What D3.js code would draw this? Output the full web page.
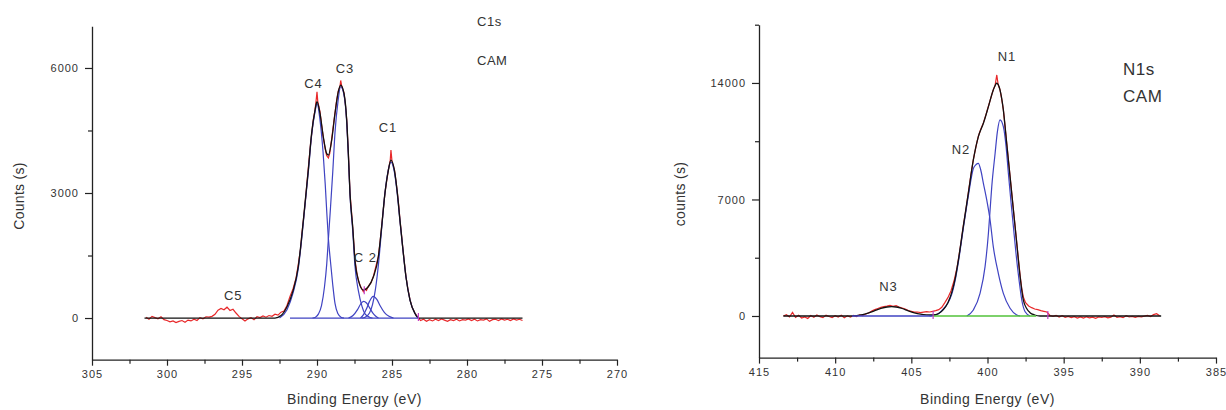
<!DOCTYPE html>
<html>
<head>
<meta charset="utf-8">
<script src="https://cdn.jsdelivr.net/npm/d3@7"></script>
<style>
html,body{margin:0;padding:0;background:#fff;}
svg{display:block;}
text{font-family:"Liberation Sans",Arial,sans-serif;fill:#333;}
</style>
</head>
<body>
<svg id="chart" width="1226" height="410"></svg>
<script>
// ---------------- DATA: C1s panel ----------------
const c1sXTicks = [305, 300, 295, 290, 285, 280, 275, 270];
const c1sXMinor = [302.5, 297.5, 292.5, 287.5, 282.5, 277.5, 272.5];
const c1sYTicks = [0, 3000, 6000];
const c1sYMinor = [1500, 4500];

const c1sRaw = [
 [301.4,20],[301.2,-30],[301.0,40],[300.8,10],[300.6,-20],[300.4,30],[300.2,-40],[300.0,-60],[299.8,-90],[299.6,-70],
 [299.4,-110],[299.2,-80],[299.0,-60],[298.8,-100],[298.6,-50],[298.4,-70],[298.2,-30],[298.0,-60],[297.8,10],[297.6,-20],
 [297.4,30],[297.2,20],[297.0,40],[296.8,90],[296.6,190],[296.4,230],[296.2,200],[296.0,260],[295.8,180],[295.6,210],[295.4,120],
 [295.2,40],[295.0,-20],[294.8,-70],[294.6,-20],[294.4,10],[294.2,-40],[294.0,30],[293.8,10],[293.6,50],[293.4,20],
 [293.2,60],[293.0,40],[292.8,90],[292.6,70],[292.4,140],[292.2,170],[292.0,300],
 [291.8,520],[291.6,700],[291.4,950],[291.25,1280],[291.1,1650],[291.02,1980],[290.9,2380],[290.8,2720],[290.7,3120],
 [290.58,3600],[290.45,4100],[290.36,4400],[290.25,4750],[290.13,5000],[290.05,5250],[290.0,5430],[289.95,5200],
 [289.8,4950],[289.7,4650],[289.58,4330],[289.45,4050],[289.36,3900],[289.24,3840],[289.15,3950],[289.02,4300],
 [288.9,4650],[288.8,4920],[288.7,5200],[288.58,5450],[288.47,5550],[288.42,5700],[288.35,5560],[288.2,5400],
 [288.1,5100],[288.02,4760],[287.91,3980],[287.8,3000],[287.7,2550],[287.62,2180],[287.47,1400],[287.35,1100],
 [287.24,900],[287.1,760],[286.91,630],[286.8,700],[286.7,660],[286.58,760],[286.4,850],[286.24,1000],[286.1,1200],
 [285.91,1480],[285.8,1800],[285.69,2200],[285.58,2600],[285.47,3000],[285.35,3300],[285.24,3560],[285.12,3780],
 [285.07,4030],[285.0,3760],[284.84,3560],[284.74,3300],[284.64,3000],[284.55,2700],[284.47,2360],[284.38,2050],
 [284.29,1720],[284.18,1350],[284.07,1000],[283.95,720],[283.8,440],[283.65,250],[283.47,120],[283.35,60],[283.24,10],
 [283.1,-60],[282.9,-30],[282.7,-80],[282.5,-40],[282.3,-70],[282.1,-30],[281.9,-60],[281.7,-20],[281.5,-50],
 [281.3,-80],[281.1,-40],[280.9,-60],[280.7,-30],[280.5,-70],[280.3,-40],[280.1,-50],[279.9,-20],[279.7,-60],
 [279.5,-30],[279.3,-70],[279.1,-40],[278.9,-50],[278.7,-20],[278.5,-80],[278.3,-40],[278.1,-30],[277.9,-60],
 [277.7,-20],[277.5,-50],[277.3,-30],[277.1,-60],[276.9,-20],[276.7,-50],[276.5,-30],[276.3,-60]
];

const c1sEnvelope = [
 [301.5,0],[292.8,0],[292.4,60],[292.0,270],[291.6,650],[291.25,1230],[291.02,1950],[290.8,2750],[290.58,3550],
 [290.36,4430],[290.13,4990],[290.0,5190],[289.8,4910],[289.58,4350],[289.36,3950],[289.24,3910],[289.02,4270],
 [288.8,4910],[288.58,5430],[288.42,5590],[288.2,5390],[288.02,4750],[287.91,3950],[287.8,2990],[287.62,2190],
 [287.47,1390],[287.24,910],[286.91,670],[286.58,750],[286.24,990],[285.91,1470],[285.69,2190],[285.47,2990],
 [285.24,3550],[285.07,3790],[284.84,3550],[284.64,2990],[284.47,2350],[284.29,1710],[284.07,990],[283.8,430],
 [283.47,110],[283.24,0],[276.3,0]
];

const c1sC4 = [[292.5,0],[292.0,200],[291.6,600],[291.25,1180],[291.02,1900],[290.8,2700],[290.58,3500],[290.36,4380],
 [290.13,4950],[290.0,5150],[289.8,4750],[289.6,4000],[289.45,3200],[289.35,2550],[289.24,1900],[289.1,1350],
 [288.95,800],[288.8,350],[288.6,100],[288.4,20],[288.2,0]];
const c1sC3 = [[290.3,0],[290.1,20],[289.9,100],[289.7,300],[289.5,750],[289.35,1300],[289.24,1900],[289.1,2650],
 [288.95,3500],[288.8,4450],[288.6,5200],[288.42,5550],[288.2,5350],[288.02,4700],[287.91,3900],[287.8,2950],
 [287.62,2100],[287.47,1250],[287.24,650],[287.0,280],[286.8,100],[286.5,20],[286.3,0]];
const c1sC2a = [[287.9,0],[287.6,60],[287.3,200],[287.1,330],[286.9,400],[286.7,360],[286.5,250],[286.3,130],[286.1,50],[285.9,0]];
const c1sC2b = [[287.1,0],[286.9,80],[286.7,220],[286.5,400],[286.25,520],[286.0,440],[285.8,300],[285.5,130],[285.2,40],[284.9,0]];
const c1sC1 = [[287.0,0],[286.8,20],[286.5,120],[286.3,320],[286.1,700],[285.9,1300],[285.7,2100],[285.5,2900],
 [285.3,3450],[285.07,3740],[284.84,3500],[284.64,2950],[284.47,2330],[284.29,1700],[284.07,990],[283.8,430],
 [283.47,110],[283.24,0]];
const c1sBaseline = [[291.8,0],[283.2,0]];
const c1sMarks = [[283.24,0],[286.85,640]];
const c1sLabels = [
 {t:"C4",E:290.23,v:5520},{t:"C3",E:288.13,v:5887},{t:"C1",E:285.27,v:4471},
 {t:"C 2",E:286.77,v:1351},{t:"C5",E:295.58,v:432}
];
const c1sTitles = [{t:"C1s",E:279.33,v:7008},{t:"CAM",E:279.33,v:6072}];

// ---------------- DATA: N1s panel ----------------
const n1sXTicks = [415, 410, 405, 400, 395, 390, 385];
const n1sXMinor = [412.5, 407.5, 402.5, 397.5, 392.5, 387.5];
const n1sYTicks = [0, 7000, 14000];
const n1sYMinor = [3500, 10500, 17500];

const n1sRaw = [
 [413.4,0],[413.2,80],[413.0,-60],[412.8,220],[412.6,-90],[412.4,40],[412.2,-120],[412.0,-60],[411.8,-150],[411.6,30],
 [411.4,-80],[411.2,60],[411.0,-40],[410.8,-100],[410.6,50],[410.4,-30],[410.2,-90],[410.0,20],[409.8,-60],[409.6,40],
 [409.4,-110],[409.2,10],[409.0,-70],[408.8,30],[408.6,-40],[408.4,60],[408.2,20],[408.0,120],[407.8,180],[407.6,300],
 [407.4,380],[407.2,450],[407.0,520],[406.8,560],[406.6,590],[406.4,640],[406.2,580],[406.0,620],[405.8,540],[405.6,480],
 [405.4,420],[405.2,330],[405.0,280],[404.8,230],[404.6,240],[404.4,200],[404.2,230],[404.0,260],[403.8,240],[403.6,280],
 [403.4,320],[403.2,380],[403.0,520],[402.8,800],[402.6,1100],[402.4,1500],[402.2,2100],[402.0,2900],[401.91,3400],
 [401.75,4350],[401.59,5400],[401.4,6500],[401.26,7400],[401.1,8400],[400.93,9400],[400.75,10200],[400.6,10800],
 [400.45,11200],[400.27,11600],[400.1,12100],[399.94,12600],[399.78,13100],[399.62,13600],[399.5,13850],[399.39,14480],
 [399.3,13900],[399.18,13600],[399.07,13050],[398.96,12400],[398.85,11400],[398.74,10400],[398.63,9400],[398.52,8400],
 [398.41,7400],[398.3,6400],[398.19,5400],[398.08,4400],[397.97,3400],[397.86,2450],[397.75,1650],[397.65,1150],
 [397.5,800],[397.3,600],[397.1,500],[396.9,420],[396.7,380],[396.5,320],[396.3,280],[396.1,240],[395.9,30],[395.7,-20],
 [395.5,40],[395.3,-60],[395.1,20],[394.9,-80],[394.7,-30],[394.5,-100],[394.3,-40],[394.1,-120],[393.9,-60],[393.7,-130],
 [393.5,-50],[393.3,-110],[393.1,-70],[392.9,-140],[392.7,-60],[392.5,-90],[392.3,-40],[392.1,-110],[391.9,-70],[391.7,60],
 [391.5,-80],[391.3,-40],[391.1,-100],[390.9,20],[390.7,-60],[390.5,-30],[390.3,-80],[390.1,-20],[389.9,-50],[389.7,-10],
 [389.5,40],[389.3,-30],[389.1,80],[388.9,140],[388.7,20]
];

const n1sEnvelope = [
 [413.4,0],[409.0,0],[408.6,20],[408.2,80],[407.8,180],[407.4,320],[407.0,450],[406.6,540],[406.29,560],[406.0,540],
 [405.6,450],[405.2,310],[404.8,190],[404.4,110],[404.0,70],[403.56,60],[403.2,150],[402.9,380],[402.6,800],
 [402.35,1400],[402.1,2350],[401.91,3365],[401.59,5366],[401.26,7370],[400.93,9374],[400.6,10774],[400.27,11580],
 [399.94,12577],[399.62,13580],[399.39,13983],[399.18,13580],[398.96,12378],[398.74,10378],[398.52,8372],[398.3,6370],
 [398.08,4369],[397.86,2362],[397.65,961],[397.43,450],[397.21,200],[396.9,60],[396.55,0],[388.6,0]
];
const n1sN2 = [[403.8,0],[403.3,100],[402.9,420],[402.6,780],[402.35,1300],[402.1,2250],[401.91,3250],[401.59,5250],
 [401.26,7200],[400.93,8850],[400.75,9100],[400.6,9174],[400.45,8800],[400.27,7970],[400.05,6970],[399.83,5769],
 [399.62,4165],[399.29,2566],[398.96,1362],[398.52,463],[398.08,60],[397.86,0]];
const n1sN1 = [[401.36,0],[400.93,360],[400.49,1362],[400.16,2965],[399.94,4970],[399.83,6370],[399.72,7770],
 [399.5,9777],[399.35,11075],[399.18,11780],[398.96,11375],[398.78,10173],[398.63,8575],[398.47,6970],[398.3,5366],
 [398.13,3768],[397.93,2163],[397.75,961],[397.53,258],[397.21,0]];
const n1sBlueBase = [[408.9,0],[403.6,0]];
const n1sGreenBase = [[403.6,0],[396.8,0]];
const n1sMarks = [[403.57,0],[396.04,0]];
const n1sLabels = [{t:"N1",E:398.72,v:15323},{t:"N2",E:401.74,v:9735},{t:"N3",E:406.5,v:1502}];
const n1sTitles = [{t:"N1s",E:391.1,v:14482},{t:"CAM",E:391.1,v:12859}];

// ---------------- DRAWING ----------------
const svg = d3.select("#chart");
const COL = {raw:"#e8282a", env:"#111111", comp:"#3f43c2", base:"#3f43c2", green:"#52c23a", mark:"#c23fc8"};

function panel(cfg){
  const x = d3.scaleLinear().domain(cfg.xDom).range(cfg.xRange);
  const y = d3.scaleLinear().domain(cfg.yDom).range(cfg.yRange);
  const g = svg.append("g");

  const axisStyle = sel => {
    sel.selectAll("path.domain").attr("stroke","#222").attr("stroke-width",1.3);
    sel.selectAll(".tick line").attr("stroke","#222").attr("stroke-width",1.2);
    sel.selectAll(".tick text").attr("fill","#333").style("font-size","11px")
       .style("letter-spacing","1px").style("font-family",'"Liberation Sans",Arial,sans-serif');
  };
  // x axis
  const xa = g.append("g").attr("transform",`translate(0,${cfg.yRange[0]})`)
    .call(d3.axisBottom(x).tickValues(cfg.xTicks).tickSize(6).tickSizeOuter(0).tickPadding(5).tickFormat(d3.format("d")));
  axisStyle(xa);
  const xm = g.append("g").attr("transform",`translate(0,${cfg.yRange[0]})`)
    .call(d3.axisBottom(x).tickValues(cfg.xMinor).tickSize(4).tickFormat(""));
  xm.select("path.domain").remove(); axisStyle(xm);
  // y axis
  const ya = g.append("g").attr("transform",`translate(${cfg.xRange[0]},0)`)
    .call(d3.axisLeft(y).tickValues(cfg.yTicks).tickSize(7).tickSizeOuter(0).tickPadding(6).tickFormat(d3.format("d")));
  axisStyle(ya);
  const ym = g.append("g").attr("transform",`translate(${cfg.xRange[0]},0)`)
    .call(d3.axisLeft(y).tickValues(cfg.yMinor).tickSize(4).tickFormat(""));
  ym.select("path.domain").remove(); axisStyle(ym);

  // axis titles
  g.append("text").attr("x",(cfg.xRange[0]+cfg.xRange[1])/2 + cfg.xTitleShift).attr("y",404)
    .attr("text-anchor","middle").style("font-size","14px").style("letter-spacing","0.5px").text("Binding Energy (eV)");
  g.append("text").attr("transform",`translate(${cfg.yTitleX},${cfg.yTitleY}) rotate(-90)`)
    .attr("text-anchor","middle").style("font-size","14px").style("letter-spacing","0.3px").text(cfg.yTitle);

  const lineLin = d3.line().x(d=>x(d[0])).y(d=>y(d[1]));
  const lineSm = d3.line().x(d=>x(d[0])).y(d=>y(d[1])).curve(d3.curveMonotoneX);

  g.append("path").datum(cfg.raw).attr("d",lineLin).attr("fill","none").attr("stroke",COL.raw).attr("stroke-width",1.2);
  cfg.comps.forEach(c=>{
    g.append("path").datum(c).attr("d",lineSm).attr("fill","none").attr("stroke",COL.comp).attr("stroke-width",1.2);
  });
  g.append("path").datum(cfg.env).attr("d",lineSm).attr("fill","none").attr("stroke",COL.env).attr("stroke-width",1.3);
  cfg.bases.forEach(b=>{
    g.append("path").datum(b.d).attr("d",lineLin).attr("fill","none").attr("stroke",b.c).attr("stroke-width",1.3);
  });
  cfg.marks.forEach(m=>{
    g.append("line").attr("x1",x(m[0])).attr("x2",x(m[0])).attr("y1",y(m[1])-5).attr("y2",y(m[1])+3)
      .attr("stroke",COL.mark).attr("stroke-width",1.2);
  });
  cfg.labels.forEach(l=>{
    g.append("text").attr("x",x(l.E)).attr("y",y(l.v)).attr("text-anchor","middle")
      .style("font-size","13px").style("letter-spacing","1px").text(l.t);
  });
  cfg.titles.forEach(l=>{
    g.append("text").attr("x",x(l.E)).attr("y",y(l.v)).attr("text-anchor","start")
      .style("font-size",cfg.titleSize).style("letter-spacing","0.5px").text(l.t);
  });
}

panel({
  xDom:[305,270], xRange:[92,617], yDom:[-1000,7000], yRange:[359.7,26.3],
  xTicks:c1sXTicks, xMinor:c1sXMinor, yTicks:c1sYTicks, yMinor:c1sYMinor,
  raw:c1sRaw, env:c1sEnvelope, comps:[c1sC4,c1sC3,c1sC2a,c1sC2b,c1sC1],
  bases:[{d:c1sBaseline,c:COL.base}], marks:c1sMarks, labels:c1sLabels, titles:c1sTitles, titleSize:"13px",
  yTitle:"Counts (s)", yTitleX:24, yTitleY:196, xTitleShift:0
});
panel({
  xDom:[415,385], xRange:[759,1216], yDom:[-2500,17500], yRange:[357.6,24.7],
  xTicks:n1sXTicks, xMinor:n1sXMinor, yTicks:n1sYTicks, yMinor:n1sYMinor,
  raw:n1sRaw, env:n1sEnvelope, comps:[n1sN2,n1sN1],
  bases:[{d:n1sBlueBase,c:COL.base},{d:n1sGreenBase,c:COL.green}], marks:n1sMarks, labels:n1sLabels, titles:n1sTitles, titleSize:"17px",
  yTitle:"counts (s)", yTitleX:685, yTitleY:194, xTitleShift:0
});
</script>
</body>
</html>
